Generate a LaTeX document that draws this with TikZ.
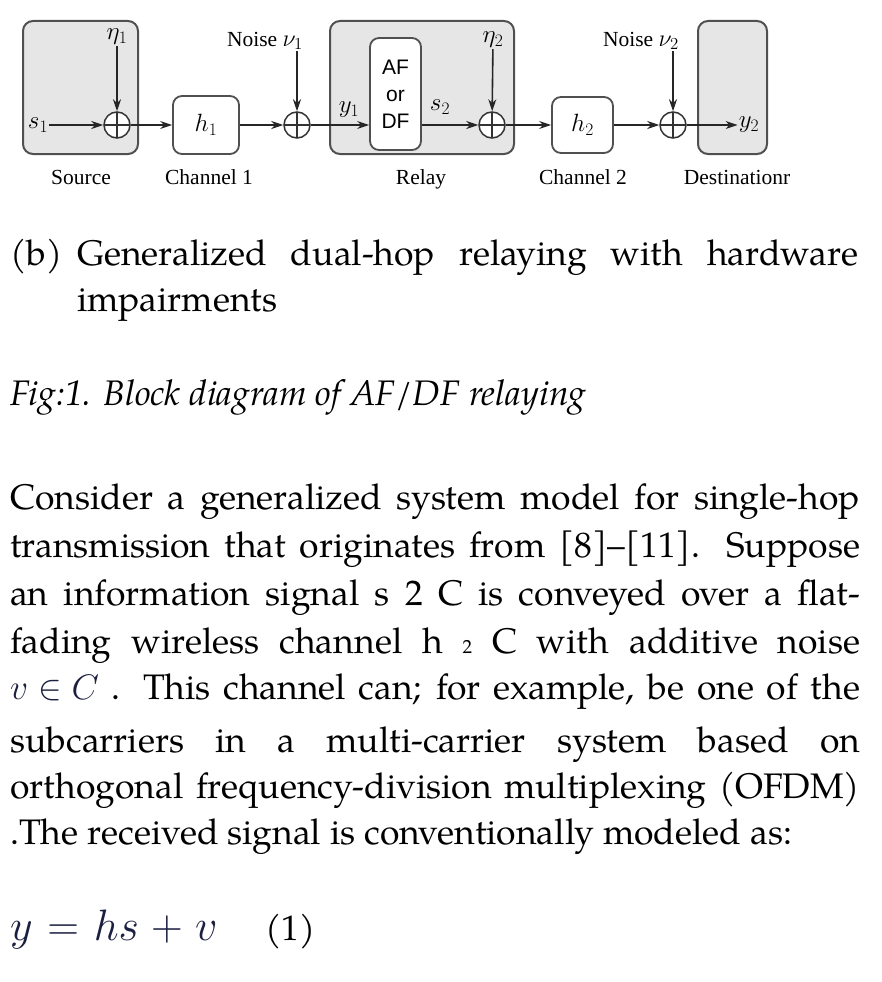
\documentclass[tikz,border=0pt]{standalone}
\usepackage{fix-cm}
\usepackage{fontspec}
\setmainfont{TeX Gyre Pagella}
\newfontfamily\diagfont{Liberation Serif}
\newfontfamily\afdffont{Liberation Sans}
\usetikzlibrary{arrows.meta}
\definecolor{boxgray}{RGB}{230,230,230}
\definecolor{edgegray}{RGB}{80,80,80}
\definecolor{mathink}{RGB}{28,32,64}
\newcommand{\jline}[1]{\makebox[850pt][s]{#1}}

\begin{document}
\begin{tikzpicture}[x=1pt,y=-1pt,
    outer/.style={draw=edgegray,line width=2pt,fill=boxgray,rounded corners=10pt,inner sep=0pt},
    inner/.style={draw=edgegray,line width=1.8pt,fill=white,rounded corners=9pt,inner sep=0pt},
    sum/.style={circle,draw=black!80,line width=1.5pt,fill=white,minimum size=26pt,inner sep=0pt,
        path picture={\draw[line width=1.3pt] (path picture bounding box.north) -- (path picture bounding box.south)
            (path picture bounding box.west) -- (path picture bounding box.east);}},
    sig/.style={-{Stealth[length=12pt,width=8pt]},line width=1.6pt,draw=black!85},
    lab/.style={font=\diagfont\fontsize{21.5}{24}\selectfont,inner sep=1pt},
    sym/.style={font=\fontsize{25}{28}\selectfont,inner sep=1pt},
    blockname/.style={font=\diagfont\fontsize{21.5}{24}\selectfont,inner sep=1pt,anchor=base},
    txt/.style={anchor=base west,inner sep=0pt,font=\fontsize{35.5}{40}\selectfont}]
    \useasboundingbox[fill=white] (0,0) rectangle (882,982);

    % Blocks %
    \node[outer,minimum width=115pt,minimum height=133pt] (source) at (80.5,87.5) {};
    \node[outer,minimum width=184pt,minimum height=133pt] (relay) at (422,87.5) {};
    \node[outer,minimum width=69pt,minimum height=133pt] (dest) at (732.5,87.5) {};
    \node[inner,minimum width=51pt,minimum height=112pt,align=center,
        font=\afdffont\fontsize{21}{27}\selectfont] (afdf) at (395.5,94) {AF\\or\\DF};
    \node[inner,sym,minimum width=66pt,minimum height=58pt] (ch1) at (206,125) {$h_1$};
    \node[inner,sym,minimum width=61pt,minimum height=56pt] (ch2) at (582.5,125) {$h_2$};
    \node[sum] (sum1) at (117,125) {};
    \node[sum] (sum2) at (297,125) {};
    \node[sum] (sum3) at (492,125) {};
    \node[sum] (sum4) at (673,125) {};

    % Signals and noise %
    \node[sym] (s1) at (38,125) {$s_1$};
    \node[sym] (eta1) at (117,37) {$\eta_1$};
    \node[lab] (nu1) at (265,41) {Noise {\fontsize{24}{24}\selectfont$\nu_1$}};
    \node[sym] (y1) at (349,110) {$y_1$};
    \node[sym] (s2) at (440,107) {$s_2$};
    \node[sym] (eta2) at (493,40) {$\eta_2$};
    \node[lab] (nu2) at (641,41) {Noise {\fontsize{24}{24}\selectfont$\nu_2$}};
    \node[sym] (y2) at (749,125) {$y_2$};

    \draw[sig] (s1) -- (sum1);
    \draw[sig] (eta1) -- (sum1);
    \draw[sig] (sum1) -- (ch1);
    \draw[sig] (ch1) -- (sum2);
    \draw[sig] (nu1.south -| sum2) -- (sum2);
    \draw[sig] (sum2) -- (afdf.west |- sum2);
    \draw[sig] (afdf.east |- sum3) -- (sum3);
    \draw[sig] (eta2) -- (sum3);
    \draw[sig] (sum3) -- (ch2);
    \draw[sig] (ch2) -- (sum4);
    \draw[sig] (nu2.south -| sum4) -- (sum4);
    \draw[sig] (sum4) -- (y2);

    % Block names %
    \node[blockname] (srcname) at (81,184) {Source};
    \node[blockname] (ch1name) at (209,184) {Channel 1};
    \node[blockname] (relayname) at (421,184) {Relay};
    \node[blockname] (ch2name) at (583,184) {Channel 2};
    \node[blockname] (destname) at (737,184) {Destinationr};

    % Caption %
    \node[txt] (capb) at (10,265) {(b)};
    \node[txt] (capa) at (77,265) {\makebox[781pt][s]{Generalized dual-hop relaying with hardware}};
    \node[txt] (capc) at (77,311) {impairments};
    \node[txt,font=\itshape\fontsize{35.5}{40}\selectfont] (fig) at (10,405) {Fig:1. Block diagram of AF/DF relaying};

    % Body text %
    \node[txt] (l1) at (10,509) {\jline{Consider a generalized system model for single-hop}};
    \node[txt] (l2) at (10,557) {\jline{transmission that originates from [8]--[11]. Suppose}};
    \node[txt] (l3) at (10,605) {\jline{an information signal s 2 C is conveyed over a flat-}};
    \node[txt] (l4) at (10,653) {\jline{fading wireless channel h {\fontsize{19}{19}\selectfont 2} C with additive noise}};
    \node[txt] (l5) at (10,699) {\jline{{\color{mathink}\mbox{$v\in C$}} . This channel can; for example, be one of the}};
    \node[txt] (l6) at (10,752) {\jline{subcarriers in a multi-carrier system based on}};
    \node[txt] (l7) at (10,798) {\jline{orthogonal frequency-division multiplexing (OFDM)}};
    \node[txt] (l8) at (10,844) {.The received signal is conventionally modeled as:};

    % Equation %
    \node[txt,font=\fontsize{44}{48}\selectfont,text=mathink] (eq) at (10,940)
        {\medmuskip=5mu\thickmuskip=6mu$y = hs + v$};
    \node[txt] (eqnum) at (265,940) {(1)};
\end{tikzpicture}
\end{document}
